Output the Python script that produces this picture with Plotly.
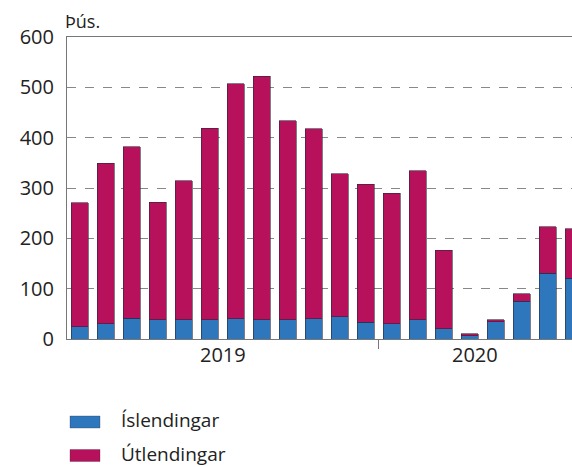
import plotly.graph_objects as go

months = ["jan 2019", "feb 2019", "mar 2019", "apr 2019", "maí 2019", "jún 2019",
          "júl 2019", "ágú 2019", "sep 2019", "okt 2019", "nóv 2019", "des 2019",
          "jan 2020", "feb 2020", "mar 2020", "apr 2020", "maí 2020", "jún 2020",
          "júl 2020", "ágú 2020"]
islendingar = [24, 30, 41, 38, 38, 38, 40, 38, 38, 40, 44, 33,
               30, 38, 20, 6, 34, 75, 131, 121]
totals = [271, 349, 382, 272, 314, 419, 507, 522, 434, 418, 328, 307,
          290, 334, 176, 10, 38, 90, 223, 219]
utlendingar = [t - i for t, i in zip(totals, islendingar)]
year_labels = ["2019", "2020"]
y_ticks = [0, 100, 200, 300, 400, 500, 600]
series_names = ["Íslendingar", "Útlendingar"]

W, H = 572, 467
L, R, T, B = 67, 572, 37, 339
FONT = "Open Sans"
BLUE = "#2e77bd"
MAG = "#b8115c"
XR = [-0.481, 18.94]

xs = list(range(len(months)))

fig = go.Figure()
fig.add_trace(go.Bar(x=xs, y=islendingar, name=series_names[0], marker_color=BLUE,
                     marker_line=dict(color="rgba(40,40,60,0.75)", width=0.8),
                     width=0.654, hovertext=months))
fig.add_trace(go.Bar(x=xs, y=utlendingar, name=series_names[1], marker_color=MAG,
                     marker_line=dict(color="rgba(40,40,60,0.75)", width=0.8),
                     width=0.654, hovertext=months))

def px_x(p):
    return (p - L) / (R - L)

def px_y(p):
    return (B - p) / (B - T)

annotations = [
    dict(text="Þús.", xref="paper", yref="paper", x=px_x(63), y=px_y(21),
         xanchor="left", yanchor="middle", showarrow=False,
         font=dict(family=FONT, size=18, color="#222")),
    dict(text=year_labels[0], xref="x", yref="paper", x=(XR[0] + 11.5) / 2, y=px_y(354),
         xanchor="center", yanchor="middle", showarrow=False,
         font=dict(family=FONT, size=20, color="#222")),
    dict(text=year_labels[1], xref="x", yref="paper", x=(11.5 + XR[1]) / 2, y=px_y(354),
         xanchor="center", yanchor="middle", showarrow=False,
         font=dict(family=FONT, size=20, color="#222")),
]
shapes = []
for k, (name, col) in enumerate(zip(series_names, [BLUE, MAG])):
    yc = 422 + k * 33.5
    shapes.append(dict(type="rect", xref="paper", yref="paper",
                       x0=px_x(70), x1=px_x(100), y0=px_y(yc - 6), y1=px_y(yc + 6),
                       fillcolor=col, line=dict(color="rgba(40,40,60,0.5)", width=0.6)))
    annotations.append(dict(text=name, xref="paper", yref="paper", x=px_x(119), y=px_y(yc - 1.5),
                            xanchor="left", yanchor="middle", showarrow=False,
                            font=dict(family=FONT, size=19, color="#222")))

fig.update_layout(
    width=W, height=H, barmode="stack", showlegend=False,
    margin=dict(l=L, r=W - R, t=T, b=H - B, pad=0),
    paper_bgcolor="white", plot_bgcolor="white",
    xaxis=dict(range=XR, tickvals=[-0.5, 11.5], showticklabels=False,
               ticks="outside", ticklen=9, tickcolor="#777", tickwidth=1,
               showline=True, linecolor="#777", linewidth=1, mirror=True,
               showgrid=False, zeroline=False),
    yaxis=dict(range=[0, 600], tickvals=y_ticks, showline=True, linecolor="#777",
               linewidth=1, showgrid=True, gridcolor="#888", griddash="dash",
               gridwidth=1, zeroline=False, ticks="", ticklabelstandoff=8,
               tickfont=dict(family=FONT, size=20, color="#222")),
    annotations=annotations, shapes=shapes,
)

fig.write_html("out.html", config={"displayModeBar": False},
               post_script="document.body.style.margin='0';document.body.style.overflow='hidden';")
